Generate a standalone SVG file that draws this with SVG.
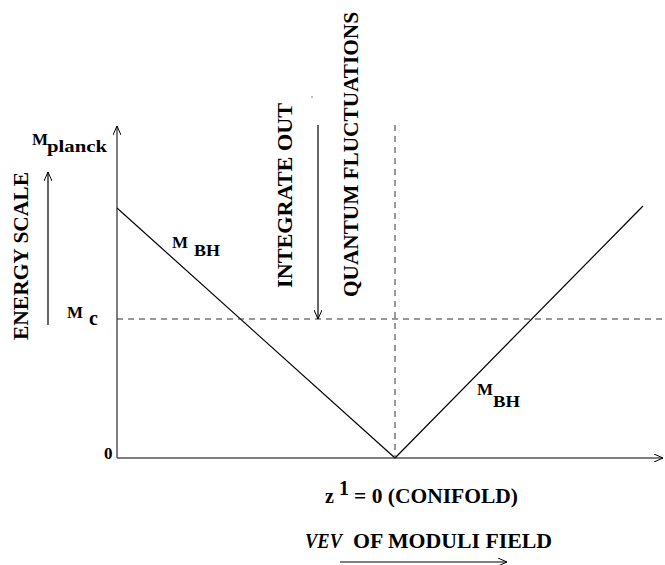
<svg xmlns="http://www.w3.org/2000/svg" width="665" height="565" viewBox="0 0 665 565">
<defs>
<marker id="ah" markerWidth="10" markerHeight="8" refX="9" refY="4" orient="auto" markerUnits="userSpaceOnUse">
<path d="M0,0 L9,4 L0,8" fill="none" stroke="#000" stroke-width="1"/>
</marker>
</defs>
<style>
.ln{stroke:#000;stroke-width:1.2;fill:none}
.ax{stroke:#555;stroke-width:1.5;fill:none}
.dash{stroke:#333;stroke-width:1;stroke-dasharray:6,5;fill:none}
.t{font-family:"Liberation Serif","Times New Roman",serif;font-weight:bold;fill:#000}
.big{font-size:20px}
.lab{font-size:17px}
</style>
<rect width="665" height="565" fill="#fff"/>
<g id="connectors">
<line class="ax" x1="117" y1="458" x2="117" y2="126" marker-end="url(#ah)"/>
<line class="ax" x1="117" y1="458" x2="663" y2="458" marker-end="url(#ah)"/>
<line class="ln" x1="117" y1="208" x2="395" y2="458"/>
<line class="ln" x1="395" y1="458" x2="643" y2="206"/>
<line class="dash" x1="117" y1="319" x2="665" y2="319"/>
<line class="dash" x1="395" y1="125" x2="395" y2="458"/>
<line class="ln" x1="318" y1="125" x2="318" y2="319" marker-end="url(#ah)"/>
<line class="ln" x1="48" y1="325" x2="48" y2="172" marker-end="url(#ah)"/>
<line class="ln" x1="340" y1="562" x2="507" y2="562" marker-end="url(#ah)"/>
<circle cx="312" cy="97" r="0.7" fill="#555"/>
</g>
<g id="energy-scale">
<text class="t big" transform="translate(28,340) rotate(-90)" textLength="168" lengthAdjust="spacingAndGlyphs">ENERGY SCALE</text>
</g>
<g id="m-planck">
<text class="t lab" x="32" y="145">M</text>
<text class="t lab" x="47" y="152" textLength="60" lengthAdjust="spacingAndGlyphs">planck</text>
</g>
<g id="m-c">
<text class="t lab" x="67" y="318">M</text>
<text class="t big" x="89" y="325">c</text>
</g>
<g id="zero">
<text class="t lab" x="104" y="459">0</text>
</g>
<g id="mbh-left">
<text class="t lab" x="172" y="248">M</text>
<text class="t lab" x="194" y="256" textLength="26" lengthAdjust="spacingAndGlyphs">BH</text>
</g>
<g id="mbh-right">
<text class="t lab" x="477" y="395">M</text>
<text class="t lab" x="493" y="407" textLength="27" lengthAdjust="spacingAndGlyphs">BH</text>
</g>
<g id="integrate-out">
<text class="t big" transform="translate(292,288) rotate(-90)" textLength="185" lengthAdjust="spacingAndGlyphs">INTEGRATE OUT</text>
</g>
<g id="quantum">
<text class="t big" transform="translate(358,297) rotate(-90)" textLength="285" lengthAdjust="spacingAndGlyphs">QUANTUM FLUCTUATIONS</text>
</g>
<g id="conifold">
<text class="t big" x="325" y="503">z</text>
<text class="t big" x="339" y="495">1</text>
<text class="t big" x="354" y="503" textLength="164" lengthAdjust="spacingAndGlyphs">= 0 (CONIFOLD)</text>
</g>
<g id="vev">
<text class="t big" font-style="italic" x="305" y="548" textLength="37" lengthAdjust="spacingAndGlyphs">VEV</text>
<text class="t big" x="353" y="548" textLength="199" lengthAdjust="spacingAndGlyphs">OF MODULI FIELD</text>
</g>
</svg>
